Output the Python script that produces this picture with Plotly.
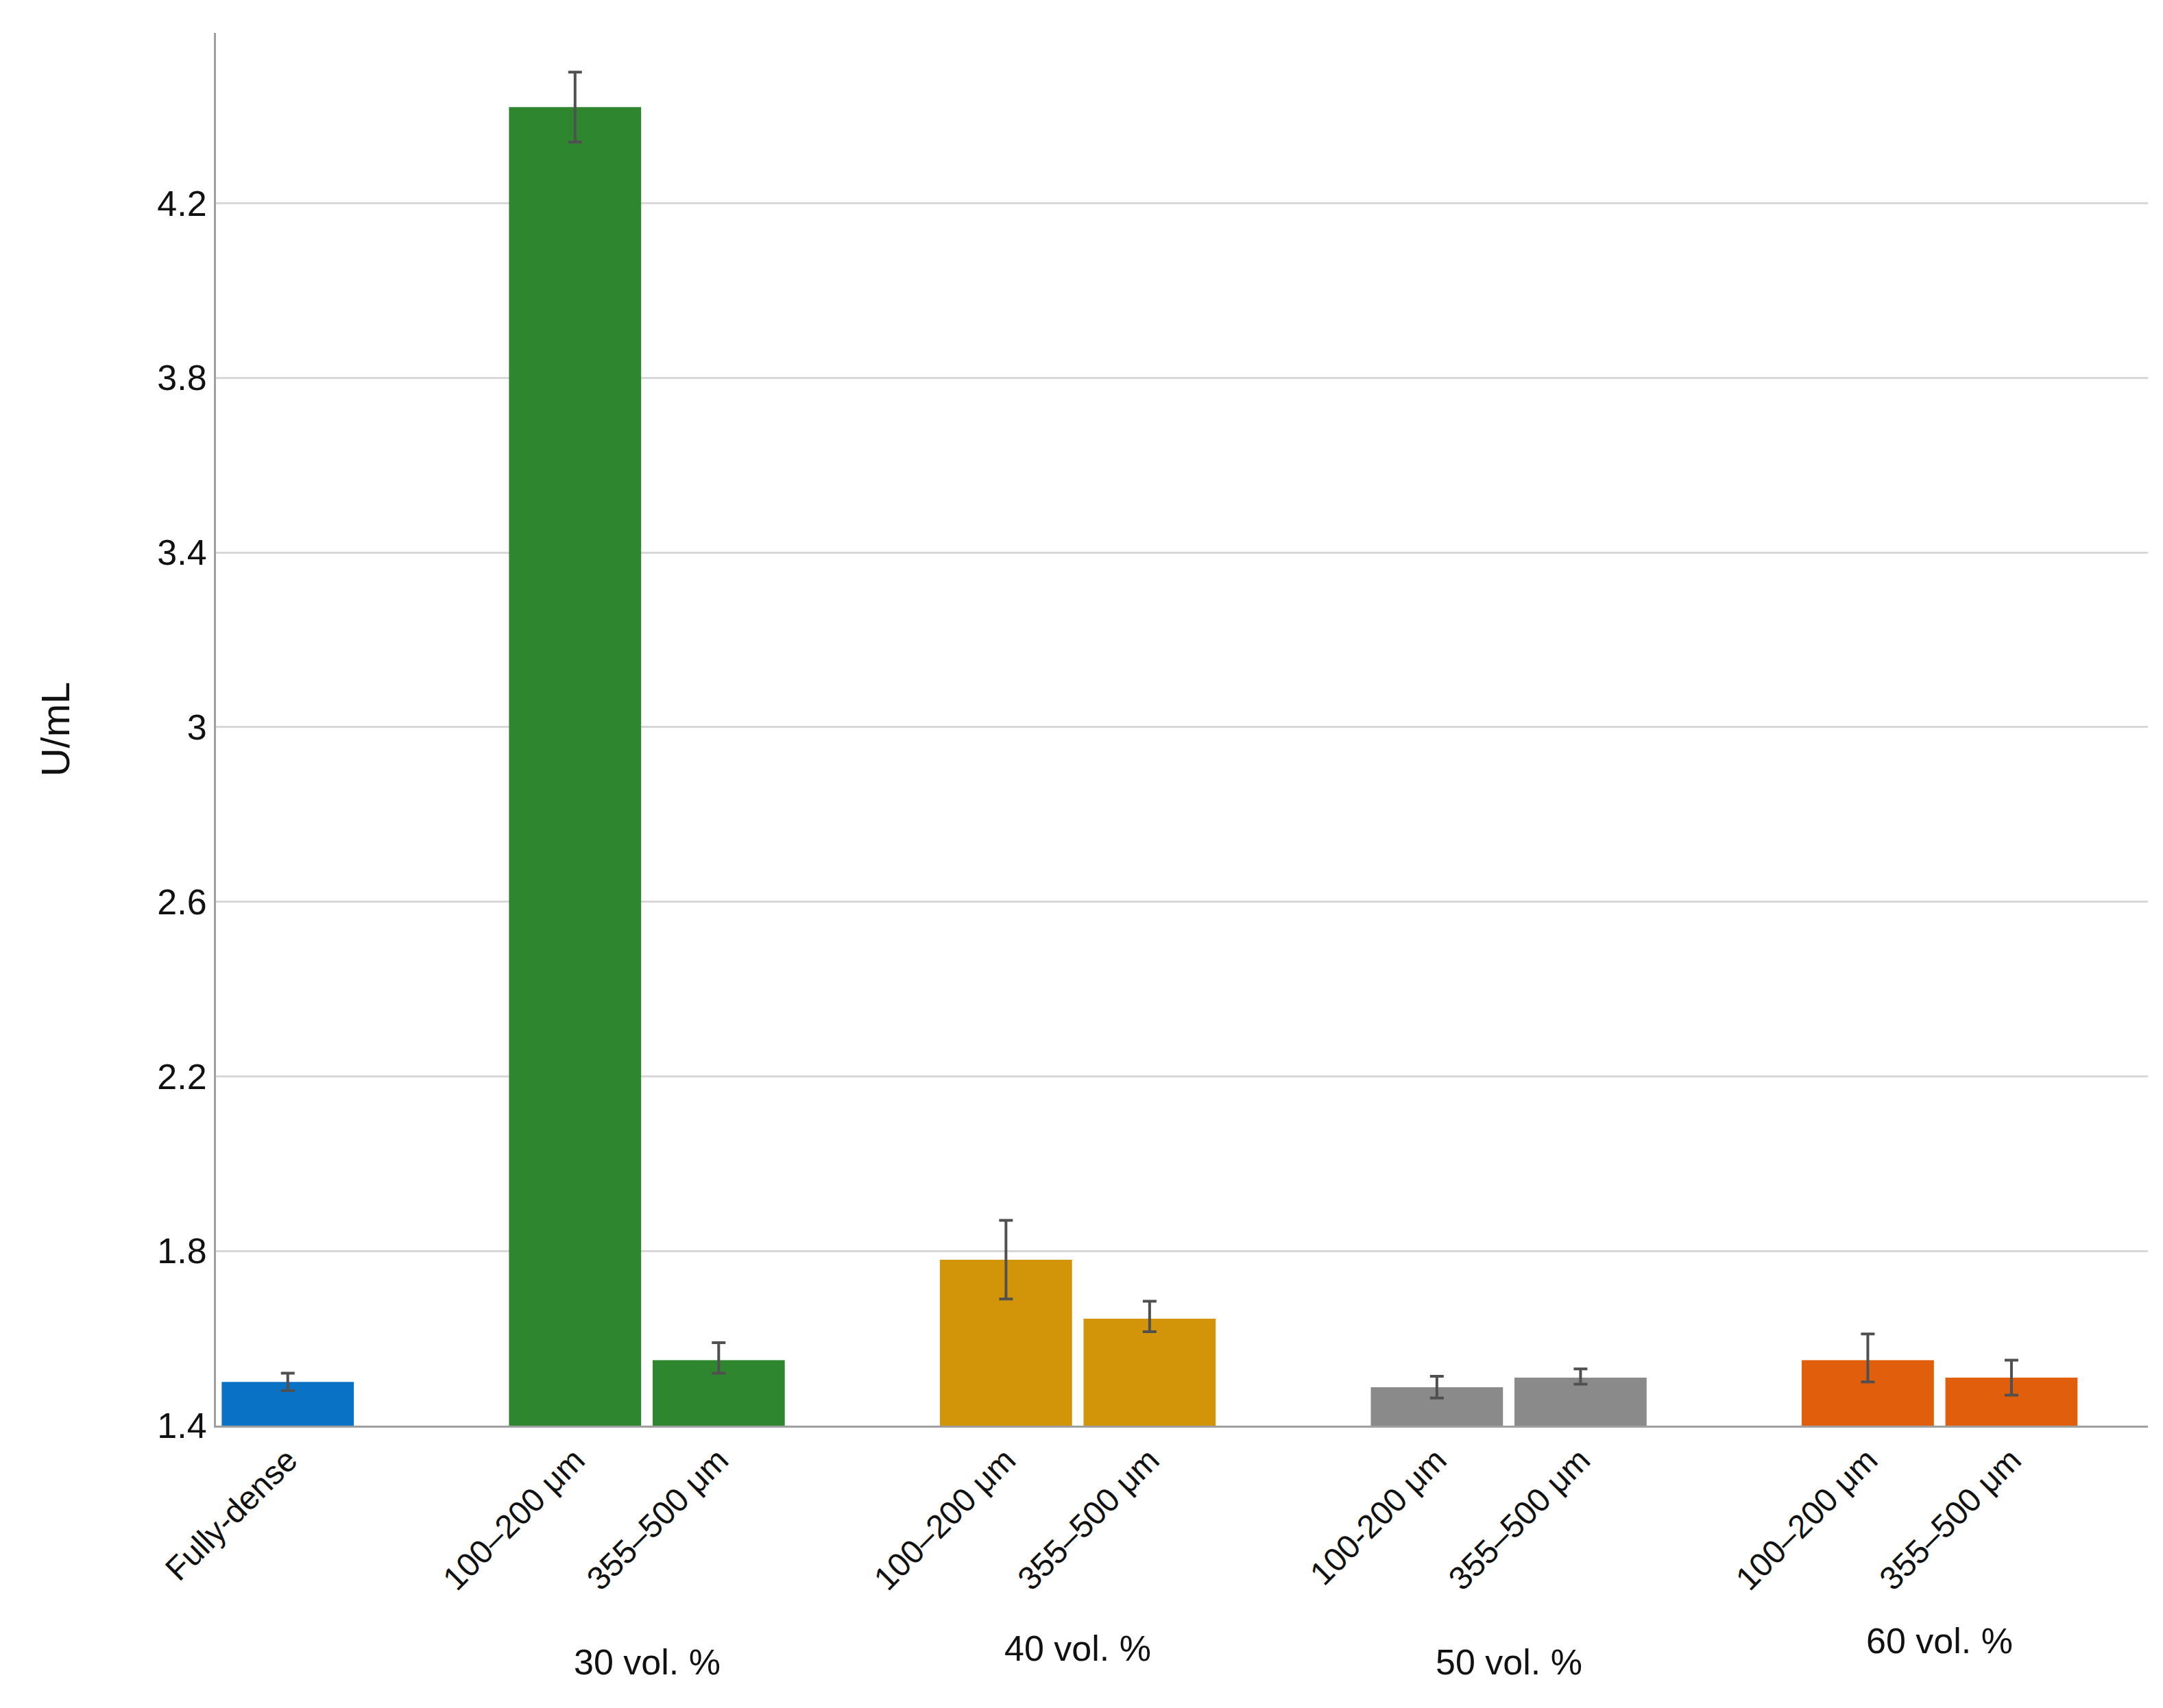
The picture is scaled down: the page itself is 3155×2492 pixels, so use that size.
import plotly.graph_objects as go

labels = ["Fully-dense", "100–200 μm", "355–500 μm", "100–200 μm", "355–500 μm",
          "100-200 μm", "355–500 μm", "100–200 μm", "355–500 μm"]
xpos = [0, 2, 3, 5, 6, 8, 9, 11, 12]
values = [1.50, 4.42, 1.55, 1.78, 1.645, 1.488, 1.51, 1.55, 1.51]
err_plus = [0.02, 0.08, 0.04, 0.09, 0.04, 0.025, 0.02, 0.06, 0.04]
err_minus = [0.02, 0.08, 0.03, 0.09, 0.03, 0.025, 0.015, 0.05, 0.04]
colors = ["#0A72C4", "#2E862E", "#2E862E", "#D29408", "#D29408",
          "#8A8A8A", "#8A8A8A", "#E15E0C", "#E15E0C"]
groups = ["30 vol. %", "40 vol. %", "50 vol. %", "60 vol. %"]
group_x = [2.5, 5.5, 8.5, 11.5]
group_y = [-0.185, -0.175, -0.185, -0.17]
yticks = [1.4, 1.8, 2.2, 2.6, 3.0, 3.4, 3.8, 4.2]
ytext = ["1.4", "1.8", "2.2", "2.6", "3", "3.4", "3.8", "4.2"]

fig = go.Figure(go.Bar(
    x=xpos, y=[v - 1.4 for v in values], base=1.4, width=0.92,
    marker=dict(color=colors, line=dict(width=0)),
    error_y=dict(type="data", array=err_plus, arrayminus=err_minus,
                 color="#505050", thickness=4, width=10),
))
fig.update_layout(
    width=3155, height=2492, plot_bgcolor="white", paper_bgcolor="white",
    margin=dict(l=307, r=30, t=40, b=420), showlegend=False,
    font=dict(family="Liberation Sans, Arial", size=48, color="#111"),
    xaxis=dict(range=[-0.5, 12.95], tickmode="array", tickvals=xpos, ticktext=labels,
               tickangle=-45, showline=True, linecolor="#A0A0A0", linewidth=3,
               showgrid=False, ticks="", tickfont=dict(size=48)),
    yaxis=dict(range=[1.4, 4.59], tickmode="array", tickvals=yticks, ticktext=ytext,
               showline=True, linecolor="#A0A0A0", linewidth=3, gridcolor="#D8D8D8",
               gridwidth=3, zeroline=False, ticks="", tickfont=dict(size=52),
               title=dict(text="U/mL", font=dict(size=58), standoff=110)),
)
for g, gx, gy in zip(groups, group_x, group_y):
    fig.add_annotation(x=gx, y=gy, xref="x", yref="paper", text=g, showarrow=False,
                       font=dict(size=52))
fig.write_html("out.html")
